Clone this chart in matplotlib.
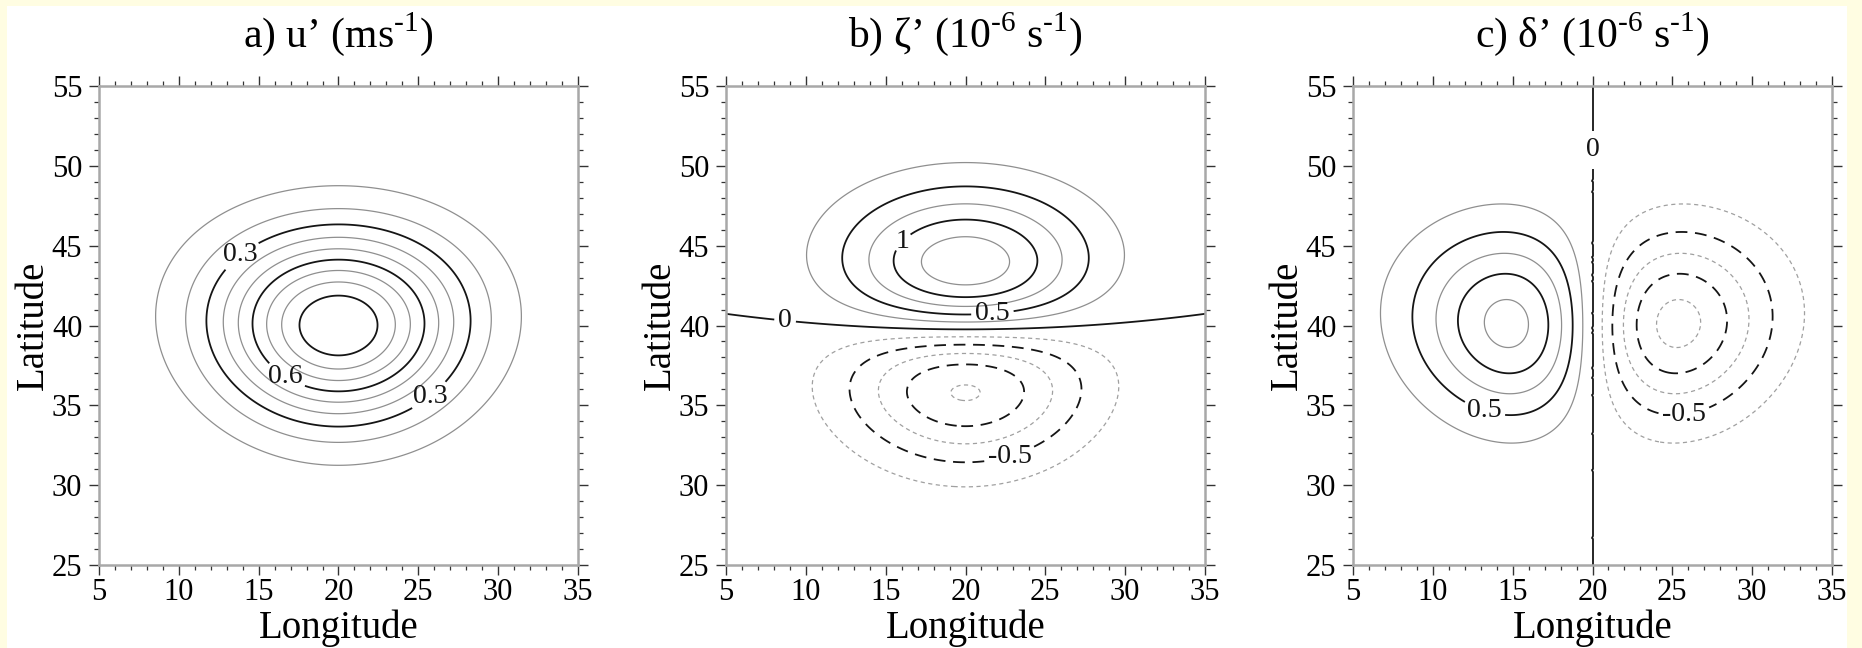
import numpy as np
import matplotlib
matplotlib.use('Agg')
import matplotlib.pyplot as plt
from matplotlib.patches import Rectangle
from matplotlib.ticker import MultipleLocator

plt.rcParams['font.family'] = ['Liberation Serif', 'DejaVu Serif']
plt.rcParams['mathtext.fontset'] = 'custom'
plt.rcParams['mathtext.rm'] = 'Liberation Serif'
plt.rcParams['lines.scale_dashes'] = False

# ---------- perturbation parameters ----------
CENTER_LON = 20.0
CENTER_LAT = 40.0
U_AMP = 1.0            # m/s, peak of u'
E_FOLD_DEG = 5.77      # e-folding radius in degrees of latitude
EARTH_RADIUS = 6.371e6

lon = np.linspace(5, 35, 300)
lat = np.linspace(25, 55, 300)

# contour levels
u_major = [0.3, 0.6, 0.9]
u_minor = [0.1, 0.2, 0.4, 0.5, 0.7, 0.8]
vort_major = [-1.0, -0.5, 0.0, 0.5, 1.0]
vort_minor = [-1.25, -0.75, -0.25, 0.25, 0.75, 1.25]
div_major = [-1.0, -0.5, 0.0, 0.5, 1.0]
div_minor = [-1.25, -0.75, -0.25, 0.25, 0.75, 1.25]

# contour label (level, lon, lat)
u_labels = [(0.3, 13.9, 44.4), (0.6, 16.7, 36.8), (0.3, 25.7, 35.6)]
vort_labels = [(0.0, 8.7, 40.3), (0.5, 21.7, 40.6), (1.0, 16.1, 45.2), (-0.5, 22.8, 31.7)]
div_labels = [(0.0, 19.9, 51.0), (0.5, 13.2, 34.6), (-0.5, 25.75, 34.4)]

titles = [r"a) u’ (ms$^{\text{-1}}$)",
          r"b) ζ’ (10$^{\text{-6}}$ s$^{\text{-1}}$)",
          r"c) δ’ (10$^{\text{-6}}$ s$^{\text{-1}}$)"]

# ---------- fields ----------
LON, LAT = np.meshgrid(lon, lat)
phi = np.radians(LAT)
dlam = np.radians(LON - CENTER_LON)
dphi = np.radians(LAT - CENTER_LAT)
L = np.radians(E_FOLD_DEG)
u = U_AMP * np.exp(-(np.cos(np.radians(CENTER_LAT)) * np.cos(phi) * dlam**2 + dphi**2) / L**2)

step_phi = np.radians(lat[1] - lat[0])
step_lam = np.radians(lon[1] - lon[0])
zeta = -np.gradient(u * np.cos(phi), step_phi, axis=0) / (EARTH_RADIUS * np.cos(phi)) * 1e6
delta = np.gradient(u, step_lam, axis=1) / (EARTH_RADIUS * np.cos(phi)) * 1e6

BLACK = '#151515'
GRAY = '#8f8f8f'
GRAY_DASH = '#a0a0a0'


def draw_panel(ax, field, major, minor, labels, title, gaps=None):
    gaps = gaps or {}
    for lv in minor:
        if lv > 0:
            ax.contour(lon, lat, field, levels=[lv], colors=GRAY, linewidths=0.9)
        else:
            ax.contour(lon, lat, field, levels=[lv], colors=GRAY_DASH, linewidths=0.9,
                       linestyles=[(0, (3, 2.5))])
    sets = {}
    for lv in major:
        if lv >= 0:
            sets[lv] = ax.contour(lon, lat, field, levels=[lv], colors=BLACK, linewidths=1.3)
        else:
            sets[lv] = ax.contour(lon, lat, field, levels=[lv], colors=BLACK, linewidths=1.3,
                                  linestyles=[(0, (8.5, 5.5))])

    for lv in sorted(set(l[0] for l in labels)):
        spots = [(x, y) for l, x, y in labels if l == lv]
        ax.clabel(sets[lv], manual=spots, inline=True, fmt='%g', fontsize=20,
                  colors=BLACK, inline_spacing=gaps.get(lv, 4))
        for t in sets[lv].labelTexts:
            t.set_rotation(0)

    ax.set_xlim(5, 35)
    ax.set_ylim(25, 55)
    ax.xaxis.set_major_locator(MultipleLocator(5))
    ax.yaxis.set_major_locator(MultipleLocator(5))
    ax.xaxis.set_minor_locator(MultipleLocator(1))
    ax.yaxis.set_minor_locator(MultipleLocator(1))
    ax.tick_params(which='both', direction='out', top=True, right=True, color='#333333')
    ax.tick_params(which='major', length=7, width=1.0, labelsize=22)
    ax.tick_params(which='minor', length=3.5, width=0.9)
    ax.tick_params(axis='x', pad=2.5)
    ax.tick_params(axis='y', pad=5)
    for sp in ax.spines.values():
        sp.set_color('#a8a8a8')
        sp.set_linewidth(1.8)

    ax.text(0.5, 1.0816, title, transform=ax.transAxes, ha='center', va='baseline', fontsize=30)
    ax.text(0.5, -0.152, 'Longitude', transform=ax.transAxes, ha='center', va='baseline', fontsize=28)
    ax.text(-0.1165, 0.5, 'Latitude', transform=ax.transAxes, ha='center', va='baseline',
            rotation=90, rotation_mode='anchor', fontsize=28)


fig = plt.figure(figsize=(18.62, 6.48), dpi=100)
fig.patch.set_facecolor('#fffde2')
fig.add_artist(Rectangle((7 / 1862, 0), 1840 / 1862, 642 / 648, transform=fig.transFigure,
                         facecolor='white', edgecolor='none', zorder=-1))

W, H = 1862.0, 648.0
lefts = [99, 726, 1353]
axes = [fig.add_axes([l / W, (H - 565) / H, 479 / W, 479 / H]) for l in lefts]

draw_panel(axes[0], u, u_major, u_minor, u_labels, titles[0])
draw_panel(axes[1], zeta, vort_major, vort_minor, vort_labels, titles[1])
draw_panel(axes[2], delta, div_major, div_minor, div_labels, titles[2], gaps={0.0: 12})

fig.savefig('out.png', dpi=100, facecolor=fig.get_facecolor())
